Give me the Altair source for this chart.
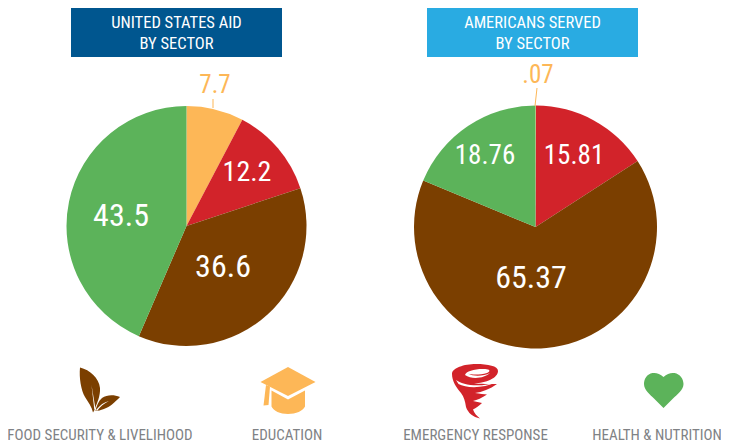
import altair as alt
import pandas as pd

# ---- data ----
sectors = ["Education", "Emergency Response", "Food Security & Livelihood", "Health & Nutrition"]
aid_values = [7.7, 12.2, 36.6, 43.5]
aid_labels = ["7.7", "12.2", "36.6", "43.5"]
served_values = [0.07, 15.81, 65.37, 18.76]
served_labels = [".07", "15.81", "65.37", "18.76"]
colors = ["#FDB757", "#D2232A", "#7B3F00", "#5CB35A"]
titles = [["UNITED STATES AID", "BY SECTOR"], ["AMERICANS SERVED", "BY SECTOR"]]
title_fills = ["#00568F", "#29ABE2"]
legend_labels = ["FOOD SECURITY & LIVELIHOOD", "EDUCATION", "EMERGENCY RESPONSE", "HEALTH & NUTRITION"]

FONT = "Roboto Condensed"
GREY = "#808285"
one = pd.DataFrame({"a": [0]})


def X(v):
    return alt.value(v - 8)


def Y(v):
    return alt.value(v - 8)


def pie(values, cx, cy, r):
    df = pd.DataFrame({"sector": sectors, "value": values, "idx": range(4)})
    return alt.Chart(df).mark_arc(radius=r).encode(
        theta=alt.Theta("value:Q", stack=True, scale=alt.Scale(domain=[0, sum(values)])),
        order=alt.Order("idx:Q"),
        color=alt.Color("sector:N", scale=alt.Scale(domain=sectors, range=colors), legend=None),
        x=X(cx),
        y=Y(cy),
    )


def txt(s, x, y, size, color, weight=400):
    return alt.Chart(one).mark_text(
        text=s, font=FONT, fontSize=size, fontWeight=weight, color=color, align="center", baseline="middle"
    ).encode(x=X(x), y=Y(y))


def box(x0, x1, y0, y1, fill):
    return alt.Chart(one).mark_rect(color=fill).encode(x=X(x0), x2=X(x1), y=Y(y0), y2=Y(y1))


def leader(x0, y0, x1, y1, color):
    return alt.Chart(one).mark_rule(color=color, strokeWidth=1).encode(x=X(x0), x2=X(x1), y=Y(y0), y2=Y(y1))


def icon(path, color):
    # size=4 draws the path at 1:1, path is written in page pixels
    return alt.Chart(one).mark_point(
        shape=path, size=4, filled=True, color=color, opacity=1, strokeWidth=0
    ).encode(x=X(0), y=Y(0))


BROWN, ORANGE, RED, GREEN = colors[2], colors[0], colors[1], colors[3]

leaf_big = "M80,367.5 C90,370 99,378 100,388 C100.5,396 97,403 94.5,410 L93,412.5 C92,407 88,402 85,397 C81,390 79,378 80,367.5 Z"
leaf_small = "M120,397 C114,394.5 107,394.5 102,398 C98.5,401 96.5,406 95.5,411 C100,411 108,408 112,404.5 C115,402 118,399 120,397 Z"
leaf_vein1 = "M91.5,385 L95.5,409 L94.3,409.5 Z"
leaf_vein2 = "M96,410 C100,405 104,402 109,401 C104,403.5 100,406.5 97,411 Z"

cap_board = "M288,367 L315.5,382 L288,396 L260.5,382 Z"
cap_tassel = "M266,385 L270,386.5 L268.5,405 L263.5,405.5 Z"
cap_cup = "M271.5,390.5 L288,399.5 L305,390.5 L305,406.5 C303,411 296,414 288,414 C280,414 273.5,411 271.5,406.5 Z"

tornado = ("M452,374 C452,368 464,364 476,364 C488,364 498,366 498,371 C498,378 486,383 474,383.5 "
           "C486,384 492,384 497,384 C490,389 482,392 475,393 C480,394 484,394 487,394.5 C482,398 477,400 473,401 "
           "C476,402 479,402 482,403 C479,406 476,408 473,409.5 C474,413 477,416 480,418.5 "
           "C473,417 468,413 466,407 C465,401 464,397 461,393 C456,387 452,381 452,374 Z")
tornado_cut1 = "M465,375 C466,371 478,368 488,369.5 C490,370 490,372 487,373 C480,375 472,375 468,373.5 C474,377 484,376 490,373 C485,378 472,380 465,375 Z"
tornado_cut2 = "M456,380 C462,385 480,388 497,382 C482,389 466,388 458.5,384 Z"

heart = "M663.5,377 C660,373.5 656,372.5 652.5,373 C647,374 644,379 644,384 C644,390 650,394.5 654,398.5 L663.5,408 L673,398.5 C677,394.5 683.5,390 683.5,384 C683.5,379 680,374 674.5,373 C671,372.5 667,373.5 663.5,377 Z"

layers = [
    pie(aid_values, 186.5, 226, 120),
    pie(served_values, 535.5, 227, 121.5),
    leader(213, 99, 213, 108, ORANGE),
    leader(537, 88, 535, 106, ORANGE),
    box(71, 282, 6, 57, title_fills[0]),
    box(427, 638, 6, 57, title_fills[1]),
    txt(titles[0][0], 176.5, 23, 16.5, "#FFFFFF"),
    txt(titles[0][1], 176.5, 44, 16.5, "#FFFFFF"),
    txt(titles[1][0], 532.5, 23, 16.5, "#FFFFFF"),
    txt(titles[1][1], 532.5, 44, 16.5, "#FFFFFF"),
    txt(aid_labels[0], 215, 85, 25, ORANGE),
    txt(aid_labels[1], 247, 173, 28, "#FFFFFF"),
    txt(aid_labels[2], 223, 267, 32, "#FFFFFF"),
    txt(aid_labels[3], 121, 216, 32, "#FFFFFF"),
    txt(served_labels[0], 538, 75, 25, ORANGE),
    txt(served_labels[1], 574, 156, 27, "#FFFFFF"),
    txt(served_labels[2], 531, 278, 32, "#FFFFFF"),
    txt(served_labels[3], 485, 156, 27, "#FFFFFF"),
    icon(leaf_big, BROWN),
    icon(leaf_small, BROWN),
    icon(leaf_vein1, "#FFFFFF"),
    icon(leaf_vein2, "#FFFFFF"),
    icon(cap_board, ORANGE),
    icon(cap_tassel, ORANGE),
    icon(cap_cup, ORANGE),
    icon(tornado, RED),
    icon(tornado_cut1, "#FFFFFF"),
    icon(tornado_cut2, "#FFFFFF"),
    icon(heart, GREEN),
    txt(legend_labels[0], 100, 435, 15, GREY),
    txt(legend_labels[1], 287, 435, 15, GREY),
    txt(legend_labels[2], 475.5, 435, 15, GREY),
    txt(legend_labels[3], 657, 435, 15, GREY),
]

chart = alt.layer(*layers).resolve_scale(theta="independent").properties(
    width=713, height=435, padding=0,
    autosize=alt.AutoSizeParams(type="none"),
    background="#FFFFFF",
).configure_view(stroke=None)

chart.save("out.html", embed_options={"renderer": "svg", "actions": False})
